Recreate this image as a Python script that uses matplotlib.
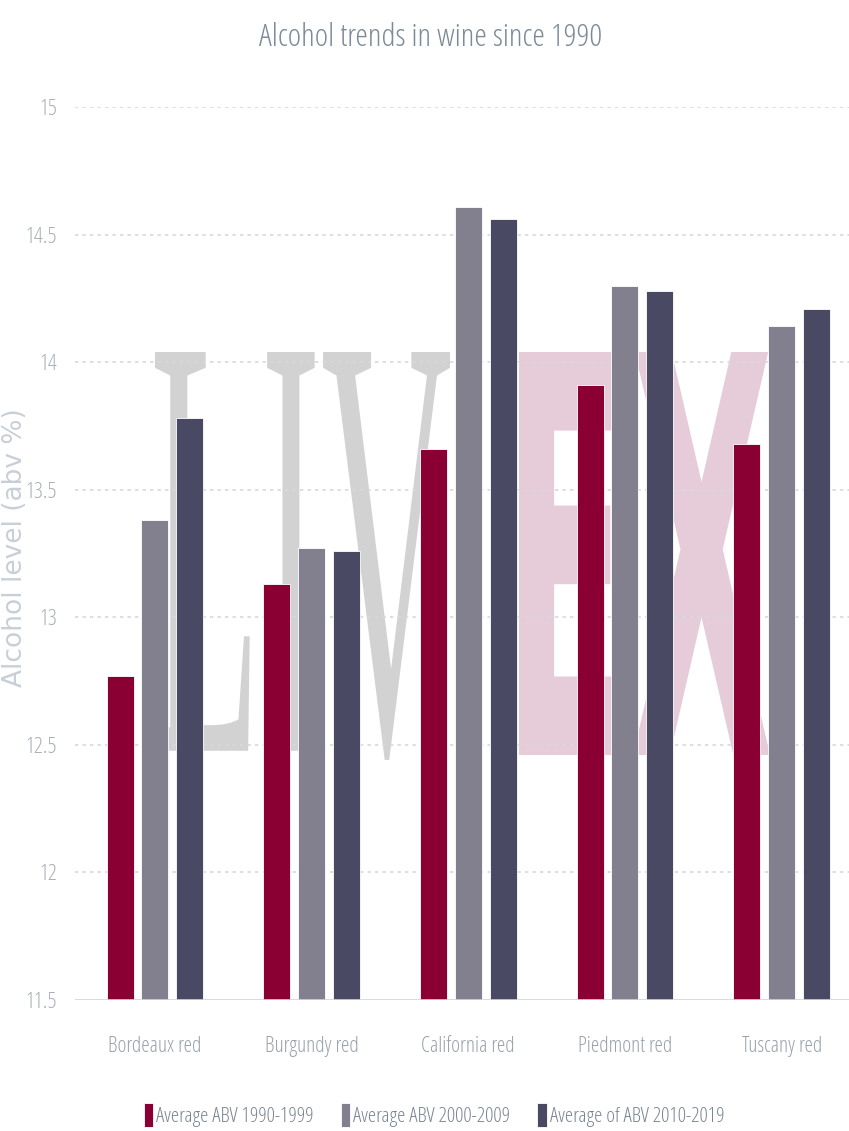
import matplotlib
matplotlib.use("Agg")
import matplotlib.pyplot as plt
import numpy as np
from matplotlib.textpath import TextPath
from matplotlib.font_manager import FontProperties
from matplotlib.patches import PathPatch
from matplotlib.transforms import Affine2D

categories = ["Bordeaux red", "Burgundy red", "California red", "Piedmont red", "Tuscany red"]
abv_1990s = [12.77, 13.13, 13.66, 13.91, 13.68]
abv_2000s = [13.38, 13.27, 14.61, 14.30, 14.14]
abv_2010s = [13.78, 13.26, 14.56, 14.28, 14.21]
series_names = ["Average ABV 1990-1999", "Average ABV 2000-2009", "Average of ABV 2010-2019"]
yticks = [11.5, 12, 12.5, 13, 13.5, 14, 14.5, 15]
ytick_labels = ["11.5", "12", "12.5", "13", "13.5", "14", "14.5", "15"]

colors = ["#8a0033", "#82808f", "#4a4963"]
NARROW = ["Open Sans", "DejaVu Sans"]


def cond(size):
    return FontProperties(family=NARROW, stretch="condensed", weight=300, size=size)


W, H = 849, 1131
fig = plt.figure(figsize=(W / 100, H / 100), dpi=100)
fig.patch.set_facecolor("white")

ax_left, ax_right = 75 / W, 1.0
ax_bottom, ax_top = 1 - 1000 / H, 1 - 107 / H
ax = fig.add_axes([ax_left, ax_bottom, ax_right - ax_left, ax_top - ax_bottom])

x = np.arange(len(categories))
bw = 0.172
step = 0.222
for i, (vals, c, name) in enumerate(zip([abv_1990s, abv_2000s, abv_2010s], colors, series_names)):
    ax.bar(x + (i - 1) * step, np.array(vals) - 11.5, bottom=11.5, width=bw, color=c,
           edgecolor="white", linewidth=0.6, zorder=3, label=name)

ax.set_xlim(-0.51, 4.43)
ax.set_ylim(11.5, 15)
ax.set_yticks(yticks)
ax.set_yticklabels(ytick_labels)
for sp in ax.spines.values():
    sp.set_visible(False)
ax.tick_params(axis="both", length=0)
ax.tick_params(axis="y", pad=13)
ax.tick_params(axis="x", pad=26)
for lbl in ax.get_yticklabels():
    lbl.set_fontproperties(cond(16))
    lbl.set_color("#a8afb8")
ax.set_xticks(x)
ax.set_xticklabels(categories)
for lbl in ax.get_xticklabels():
    lbl.set_fontproperties(cond(15.5))
    lbl.set_color("#9aa2ac")

# grid
for yv in yticks[1:]:
    ax.axhline(yv, color="#d5d9dd", linewidth=1.2, linestyle=(0, (2, 2.5)), zorder=1)
ax.axhline(11.5, color="#ccd6e0", linewidth=1.2, zorder=4)

# y label
fig.text(15 / W, 1 - 548 / H, "Alcohol level (abv %)", rotation=90, ha="center", va="center",
         fontsize=19, color="#c8cfd6", family="DejaVu Sans")

# title
fig.text(431 / W, 1 - 38 / H, "Alcohol trends in wine since 1990", ha="center", va="center",
         fontproperties=cond(23), color="#7d8a98")


# watermark
def add_mark(text, fam, weight, box, color):
    tp = TextPath((0, 0), text, size=100, prop=FontProperties(family=fam, weight=weight))
    ext = tp.get_extents()
    x0, y0, x1, y1 = box
    fx0, fx1 = x0 / W, x1 / W
    fy0, fy1 = 1 - y1 / H, 1 - y0 / H
    tr = Affine2D().translate(-ext.x0, -ext.y0).scale((fx1 - fx0) / ext.width,
                                                       (fy1 - fy0) / ext.height).translate(fx0, fy0)
    path = tr.transform_path(tp)
    patch = PathPatch(path, facecolor=color, edgecolor="none", transform=fig.transFigure, zorder=0.1)
    ax.add_patch(patch)


add_mark("LIV", ["Liberation Serif", "DejaVu Serif"], "normal", (155, 352, 450, 760), "#d2d2d2")
add_mark("EX", "DejaVu Sans", "bold", (519, 352, 770, 755), "#e6ccd8")

# legend
leg = fig.legend(handles=ax.containers, labels=series_names, loc="center",
                 bbox_to_anchor=(434 / W, 1 - 1115 / H),
                 ncol=3, frameon=False, prop=cond(15),
                 handlelength=0.45, handleheight=1.4, handletextpad=0.15, columnspacing=1.3)
for t in leg.get_texts():
    t.set_color("#7a8593")

fig.savefig("out.png", dpi=100, facecolor="white")
